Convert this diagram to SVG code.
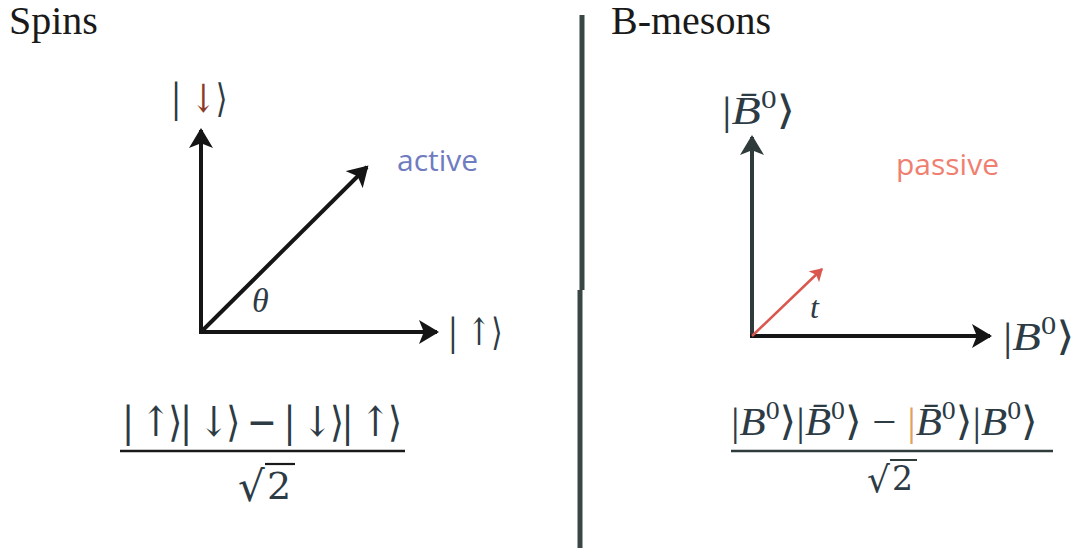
<svg xmlns="http://www.w3.org/2000/svg" width="1075" height="548" viewBox="0 0 1075 548">
<style>
.title{font-family:"Liberation Serif","DejaVu Serif",serif;font-size:40px;fill:#1a1a1a}
.math{font-family:"DejaVu Serif","Liberation Serif",serif;fill:#2d3b45}
.mi{font-family:"Liberation Serif","DejaVu Serif",serif;font-style:italic;fill:#2d3b45}
.lbl{font-family:"Open Sans","Liberation Sans",sans-serif;font-size:30px}
.axis{stroke:#151515;stroke-width:4;fill:none}
.axis2{stroke:#2f3a3b;stroke-width:4;fill:none}
</style>
<defs>
<marker id="ah" markerWidth="6" markerHeight="6" refX="4.5" refY="3" orient="auto" markerUnits="strokeWidth">
<path d="M0,0 L5,3 L0,6 L1.2,3 Z" fill="#151515"/>
</marker>
<marker id="ah2" markerWidth="6" markerHeight="6" refX="4.5" refY="3" orient="auto" markerUnits="strokeWidth">
<path d="M0,0 L5,3 L0,6 L1.2,3 Z" fill="#2f3a3b"/>
</marker>
<marker id="ahr" markerWidth="6" markerHeight="6" refX="4.5" refY="3" orient="auto" markerUnits="strokeWidth">
<path d="M0,0 L5,3 L0,6 L1.2,3 Z" fill="#d9574e"/>
</marker>
</defs>

<g id="divider">
<line x1="582" y1="15" x2="582" y2="290" stroke="#3a4546" stroke-width="5"/>
<line x1="580" y1="290" x2="580" y2="548" stroke="#3a4546" stroke-width="5"/>
</g>

<g id="title-spins"><text class="title" x="9" y="34">Spins</text></g>
<g id="title-bmesons"><text class="title" x="611" y="34">B-mesons</text></g>

<g id="connectors">
<line class="axis" x1="201" y1="334" x2="201" y2="130" marker-end="url(#ah)"/>
<line class="axis" x1="199" y1="332" x2="437" y2="332" marker-end="url(#ah)"/>
<line class="axis" x1="201" y1="332" x2="367" y2="167" marker-end="url(#ah)"/>
<line class="axis2" x1="752" y1="338" x2="752" y2="137" marker-end="url(#ah2)"/>
<line class="axis" x1="750" y1="336" x2="990" y2="336" marker-end="url(#ah)"/>
<line x1="752" y1="336" x2="822" y2="269" stroke="#d9574e" stroke-width="2.5" marker-end="url(#ahr)"/>
</g>

<g id="ket-down"><text class="math" transform="translate(171,112) scale(1,1.3)" font-size="30">| <tspan fill="#8a3a2a">↓</tspan>⟩</text></g>
<g id="ket-up"><text class="math" transform="translate(448,345) scale(1,1.3)" font-size="29">| ↑⟩</text></g>
<g id="label-active"><text class="lbl" x="397" y="171" fill="#6f7cc0">active</text></g>
<g id="label-theta"><text class="mi" x="252" y="312" font-size="34">θ</text></g>

<g id="formula-spins">
<text class="math" transform="translate(122,436) scale(1,1.15)" font-size="36" textLength="280" lengthAdjust="spacing" xml:space="preserve">| ↑⟩| ↓⟩ − | ↓⟩| ↑⟩</text>
<line x1="120" y1="451" x2="405" y2="451" stroke="#1a1a1a" stroke-width="2.5"/>
<text class="math" x="238" y="501" font-size="42">√</text>
<line x1="265" y1="464" x2="295" y2="464" stroke="#1a1a1a" stroke-width="2.2"/>
<text class="math" x="267" y="499" font-size="38" fill="#1a1a1a">2</text>
</g>

<g id="ket-bbar"><text class="mi" transform="translate(722,124) scale(1.2,1)" font-size="40"><tspan font-style="normal">|</tspan>B̄<tspan font-style="normal" font-size="26" dy="-16">0</tspan><tspan font-style="normal" dy="16">⟩</tspan></text></g>
<g id="ket-b"><text class="mi" transform="translate(1003,350) scale(1.17,1)" font-size="40"><tspan font-style="normal">|</tspan>B<tspan font-style="normal" font-size="26" dy="-16">0</tspan><tspan font-style="normal" dy="16">⟩</tspan></text></g>
<g id="label-passive"><text class="lbl" x="896" y="175" fill="#f07f72">passive</text></g>
<g id="label-t"><text class="mi" x="810" y="318" font-size="32">t</text></g>

<g id="formula-bmesons">
<text class="mi" transform="translate(731,435) scale(1.07,1)" font-size="40"><tspan font-style="normal">|</tspan>B<tspan font-style="normal" font-size="26" dy="-16">0</tspan><tspan font-style="normal" dy="16">⟩|</tspan>B̄<tspan font-style="normal" font-size="26" dy="-16">0</tspan><tspan font-style="normal" dy="16">⟩ − </tspan><tspan font-style="normal" fill="#e0a060">|</tspan>B̄<tspan font-style="normal" font-size="26" dy="-16">0</tspan><tspan font-style="normal" dy="16">⟩|</tspan>B<tspan font-style="normal" font-size="26" dy="-16">0</tspan><tspan font-style="normal" dy="16">⟩</tspan></text>
<line x1="731" y1="451" x2="1053" y2="451" stroke="#2f3a3b" stroke-width="2.5"/>
<text class="math" x="867" y="492" font-size="36">√</text>
<line x1="890" y1="460" x2="917" y2="460" stroke="#2f3a3b" stroke-width="2"/>
<text class="math" x="892" y="490" font-size="33" fill="#2f3a3b">2</text>
</g>
</svg>
